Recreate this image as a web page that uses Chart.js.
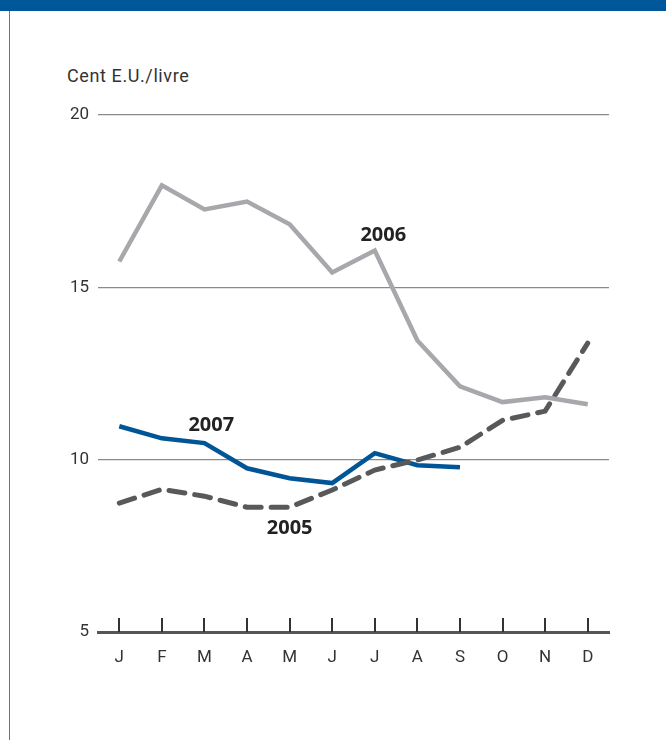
<!DOCTYPE html>
<html>
<head>
<meta charset="utf-8">
<script src="https://cdn.jsdelivr.net/npm/chart.js@4"></script>
<style>
  html, body { margin: 0; padding: 0; background: #fff; }
  #cadre {
    position: relative;
    width: 666px;
    height: 740px;
    box-sizing: border-box;
  }
  #barre { position: absolute; left: 0; top: 0; width: 666px; height: 11px; background: #00589a; }
  #bord { position: absolute; left: 9px; top: 11px; width: 1px; height: 729px; background: #4d7aa6; }
  #titre {
    position: absolute; left: 67px; top: 65px;
    font-family: Roboto, sans-serif; font-size: 18px; letter-spacing: 0.6px; color: #333;
  }
  canvas { position: absolute; left: 0; top: 0; }
</style>
</head>
<body>
<div id="cadre">
  <div id="barre"></div>
  <div id="bord"></div>
  <div id="titre">Cent E.U./livre</div>
  <canvas id="graphique" width="666" height="740"></canvas>
</div>
<script>
// Mois (axe X)
const mois = ["J", "F", "M", "A", "M", "J", "J", "A", "S", "O", "N", "D"];

// Prix en cents E.U. par livre
const prix2005 = [8.74, 9.14, 8.94, 8.62, 8.62, 9.12, 9.70, 9.99, 10.36, 11.14, 11.41, 13.38];
const prix2006 = [15.75, 17.96, 17.26, 17.49, 16.83, 15.43, 16.07, 13.46, 12.13, 11.67, 11.81, 11.61];
const prix2007 = [10.97, 10.62, 10.48, 9.75, 9.46, 9.32, 10.19, 9.84, 9.78, null, null, null];

// Graduations de l'axe Y
const ticksY = [5, 10, 15, 20];

// Étiquettes des séries : [texte, indice du mois, valeur]
const etiquettes = [
  ["2006", 6.2, 16.5],
  ["2007", 2.16, 11.0],
  ["2005", 4.0, 8.0]
];

/* ======================
   PLUGINS
====================== */

// Petites graduations verticales au-dessus de l'axe
const graduations = {
  id: "graduations",
  afterDatasetsDraw(chart) {
    const { ctx, scales } = chart;
    const x = scales.x;
    const y0 = scales.y.getPixelForValue(5);
    ctx.save();
    ctx.strokeStyle = "#333";
    ctx.lineWidth = 2;
    mois.forEach((m, i) => {
      const px = Math.round(x.getPixelForValue(i));
      ctx.beginPath();
      ctx.moveTo(px, y0);
      ctx.lineTo(px, y0 - 14);
      ctx.stroke();
    });
    ctx.restore();
  }
};

// Étiquettes d'années posées sur le graphique
const annees = {
  id: "annees",
  afterDatasetsDraw(chart) {
    const { ctx, scales } = chart;
    ctx.save();
    ctx.font = "bold 20px 'Open Sans', sans-serif";
    ctx.fillStyle = "#222";
    ctx.textAlign = "center";
    ctx.textBaseline = "middle";
    etiquettes.forEach(([texte, i, v]) => {
      ctx.fillText(texte, scales.x.getPixelForValue(i), scales.y.getPixelForValue(v));
    });
    ctx.restore();
  }
};

new Chart(document.getElementById("graphique"), {
  type: "line",
  data: {
    labels: mois,
    datasets: [
      {
        label: "2006",
        data: prix2006,
        borderColor: "#a7a8ab",
        borderWidth: 4.5,
        pointRadius: 0,
        tension: 0
      },
      {
        label: "2005",
        data: prix2005,
        borderColor: "#58595b",
        borderWidth: 5,
        borderDash: [16, 10],
        borderCapStyle: "round",
        pointRadius: 0,
        tension: 0
      },
      {
        label: "2007",
        data: prix2007,
        borderColor: "#005596",
        borderWidth: 4.5,
        pointRadius: 0,
        tension: 0
      }
    ]
  },
  options: {
    responsive: false,
    animation: false,
    layout: { padding: { top: 115, right: 57, left: 0, bottom: 0 } },
    plugins: {
      legend: { display: false },
      tooltip: { enabled: false }
    },
    scales: {
      x: {
        offset: true,
        grid: { display: false, drawTicks: false },
        border: { display: true, color: "#555", width: 3 },
        ticks: {
          color: "#333",
          padding: 16,
          font: { family: "Roboto, sans-serif", size: 17 }
        },
        afterFit(scale) { scale.height = 108; }
      },
      y: {
        min: 5,
        max: 20,
        afterBuildTicks(scale) { scale.ticks = ticksY.map((v) => ({ value: v })); },
        grid: { color: "#8a8a8a", lineWidth: 1.2, drawTicks: false },
        border: { display: false },
        ticks: {
          color: "#333",
          padding: 9,
          font: { family: "Roboto, sans-serif", size: 17 }
        },
        afterFit(scale) { scale.width = 98; }
      }
    }
  },
  plugins: [graduations, annees]
});
</script>
</body>
</html>
